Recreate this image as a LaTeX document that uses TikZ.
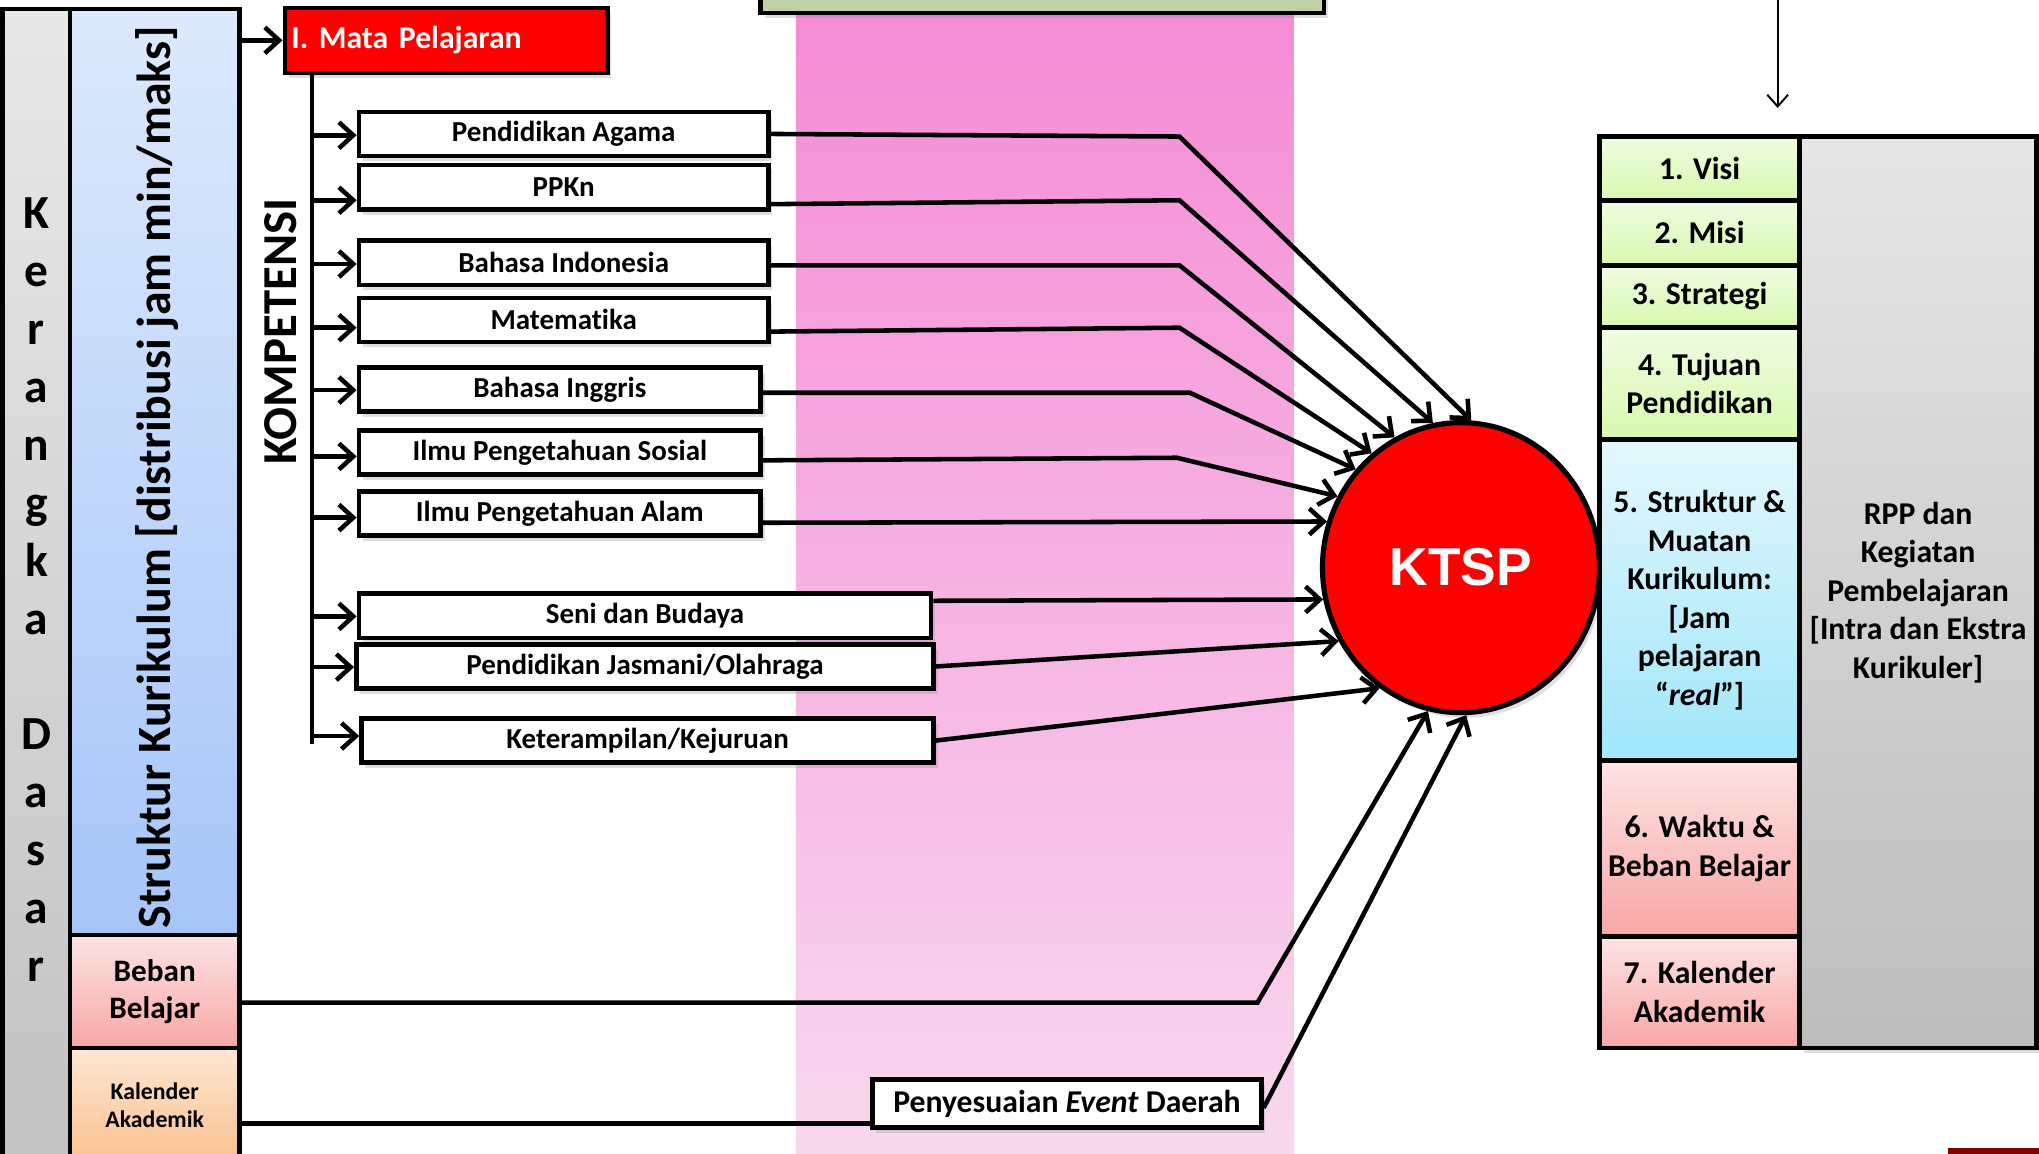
\documentclass[tikz,border=0pt]{standalone}
\usepackage{fontspec}
\setmainfont{Carlito}[Ligatures=NoCommon]
\newfontfamily\arialfont{Liberation Sans}
\usetikzlibrary{arrows.meta,shapes.geometric,shadows}
\definecolor{kdT}{HTML}{E8E8E8}\definecolor{kdB}{HTML}{C2C2C2}
\definecolor{skT}{HTML}{DDE9FC}\definecolor{skB}{HTML}{A6C6F8}
\definecolor{bbT}{HTML}{FDE3E3}\definecolor{bbB}{HTML}{F8A6A6}
\definecolor{klT}{HTML}{FEE7D2}\definecolor{klB}{HTML}{FAC08E}
\definecolor{gT}{HTML}{EFFCE2}\definecolor{gB}{HTML}{D8F8AE}
\definecolor{cT}{HTML}{E3F7FC}\definecolor{cB}{HTML}{A0E6FA}
\definecolor{rpT}{HTML}{E6E6E6}\definecolor{rpB}{HTML}{BDBDBD}
\definecolor{pkT}{HTML}{F58BD6}\definecolor{pkB}{HTML}{F8D8EE}
\definecolor{sage}{HTML}{C0D1A6}
\definecolor{darkred}{HTML}{7F0000}
\tikzset{
  bx/.style={draw=black, line width=3.5pt, inner sep=0pt, align=center,
    font=\bfseries\fontsize{24.4}{29.6}\selectfont},
  subj/.style={bx, fill=white, minimum height=34pt, font=\bfseries\fontsize{22.3}{26}\selectfont, shd},
  ln/.style={line width=3.5pt, line join=miter},
  arr/.style={ln, -{Straight Barb[length=11pt,width=20pt]}},
  shd/.style={drop shadow={opacity=0.25, shadow xshift=3pt, shadow yshift=-4pt}},
}
\begin{document}
\begin{tikzpicture}[x=1pt,y=-1pt]
\useasboundingbox (0,0) rectangle (1568,887);
\clip (0,0) rectangle (1568,887);
\fill[white] (0,0) rectangle (1568,887);
% pink band and top green box
\shade[top color=pkT, bottom color=pkB] (612,0) rectangle (995,887);
\node[bx, fill=sage, minimum width=433pt, minimum height=40pt, shd] (gbox) at (801.5,-10) {};
% left column
\node[bx, top color=kdT, bottom color=kdB, minimum width=52pt, minimum height=893pt,
  font=\bfseries\fontsize{36.5}{44.5}\selectfont] (kd) at (28,453.5)
  {K\\e\\r\\a\\n\\g\\k\\a\\~\\D\\a\\s\\a\\r};
\node[bx, top color=skT, bottom color=skB, minimum width=130pt, minimum height=712pt] (sk) at (119,363) {};
\node[rotate=90, font=\bfseries\fontsize{36.8}{40}\selectfont] (sktext) at (121,367) {Struktur Kurikulum [distribusi jam min/maks]};
\node[bx, top color=bbT, bottom color=bbB, minimum width=130pt, minimum height=87pt,
  font=\bfseries\fontsize{24}{29}\selectfont] (beban) at (119,762.5) {Beban\\Belajar};
\node[bx, top color=klT, bottom color=klB, minimum width=130pt, minimum height=88pt,
  font=\bfseries\fontsize{18.3}{21}\selectfont] (kal) at (119,850) {Kalender\\Akademik};
% mata pelajaran
\node[bx, fill=red, text=white, minimum width=248pt, minimum height=50pt, text width=238pt, align=left, shd] (mata) at (343,31) {I. Mata Pelajaran};
\draw[arr] (sk.north east |- mata.west) -- (mata.west);
\coordinate (tr0) at (240,56);
\coordinate (tr1) at (240,572);
\draw[ln] (tr0) -- (tr1);
\node[rotate=90, font=\bfseries\fontsize{37.5}{40}\selectfont] (komp) at (216,255) {KOMPETENSI};
% subjects
\node[subj, minimum width=315pt] (agama) at (433.5,103) {Pendidikan Agama};
\node[subj, minimum width=315pt] (ppkn) at (433.5,144) {PPKn};
\node[subj, minimum width=315pt] (bind) at (433.5,202) {Bahasa Indonesia};
\node[subj, minimum width=315pt] (mat) at (433.5,246) {Matematika};
\node[subj, minimum width=309pt] (bing) at (430.5,299.5) {Bahasa Inggris};
\node[subj, minimum width=309pt] (ips) at (430.5,348) {Ilmu Pengetahuan Sosial};
\node[subj, minimum width=309pt] (ipa) at (430.5,395) {Ilmu Pengetahuan Alam};
\node[subj, minimum width=440pt] (seni) at (496,473.5) {Seni dan Budaya};
\node[subj, minimum width=444pt] (jas) at (496,512.5) {Pendidikan Jasmani/Olahraga};
\node[subj, minimum width=440pt] (ket) at (498,569.5) {Keterampilan/Kejuruan};
% branch arrows
\draw[arr] (tr0 |- 0,104) -- (agama.west |- 0,104);
\draw[arr] (tr0 |- 0,154) -- (ppkn.west |- 0,154);
\draw[arr] (tr0 |- 0,203) -- (bind.west |- 0,203);
\draw[arr] (tr0 |- 0,252) -- (mat.west |- 0,252);
\draw[arr] (tr0 |- 0,300) -- (bing.west |- 0,300);
\draw[arr] (tr0 |- 0,351) -- (ips.west |- 0,351);
\draw[arr] (tr0 |- 0,398) -- (ipa.west |- 0,398);
\draw[arr] (tr0 |- 0,474) -- (seni.west |- 0,474);
\draw[arr] (tr0 |- 0,513) -- (jas.west |- 0,513);
\draw[arr] (tr0 |- 0,566) -- (ket.west |- 0,566);
% KTSP
\node[ellipse, draw=black, line width=4pt, fill=red, minimum width=213pt, minimum height=223pt,
  inner sep=0pt, text=white, font=\arialfont\bfseries\fontsize{41}{45}\selectfont, shd] (ktsp) at (1123.5,436.5) {KTSP};
% Penyesuaian box
\node[bx, fill=white, minimum width=299pt, minimum height=37pt, shd] (pbox) at (820.5,848.5) {Penyesuaian \textit{Event} Daerah};
% bend points
\coordinate (b1) at (907,105);
\coordinate (b2) at (907,154);
\coordinate (b3) at (907,204);
\coordinate (b4) at (907,252);
\coordinate (b5) at (915,302);
\coordinate (b6) at (905,352);
\coordinate (b11) at (967,771);
% connectors to KTSP
\draw[arr] (agama.east) -- (b1) -- (ktsp.86);
\draw[arr] (ppkn.east |- 0,157) -- (b2) -- (ktsp.101);
\draw[arr] (bind.east |- 0,204) -- (b3) -- (ktsp.117);
\draw[arr] (mat.east |- 0,255) -- (b4) -- (ktsp.128);
\draw[arr] (bing.east |- 0,302) -- (b5) -- (ktsp.137);
\draw[arr] (ips.east |- 0,354) -- (b6) -- (ktsp.150);
\draw[arr] (ipa.east |- 0,402) -- (ktsp.161.2);
\draw[arr] (seni.east |- 0,462) -- (ktsp.193.8);
\draw[arr] (jas.east) -- (ktsp.211);
\draw[arr] (ket.east) -- (ktsp.236);
\draw[arr] (beban.east |- 0,771) -- (b11) -- (ktsp.257);
\draw[ln] (kal.east |- 0,864) -- (pbox.west |- 0,864);
\draw[arr] (pbox.east |- 0,852) -- (ktsp.272);
% right block
\node[bx, top color=rpT, bottom color=rpB, minimum width=182pt, minimum height=701pt, shd] (rpp) at (1475,455.5)
  {RPP dan\\Kegiatan\\Pembelajaran\\{[}Intra dan Ekstra\\Kurikuler]};
\node[bx, top color=gT, bottom color=gB, minimum width=154pt, minimum height=49pt] (visi) at (1307,129.5) {1. Visi};
\node[bx, top color=gT, bottom color=gB, minimum width=154pt, minimum height=50pt] (misi) at (1307,179) {2. Misi};
\node[bx, top color=gT, bottom color=gB, minimum width=154pt, minimum height=48pt] (strat) at (1307,228) {3. Strategi};
\node[bx, top color=gT, bottom color=gB, minimum width=154pt, minimum height=86pt] (tuj) at (1307,295) {4. Tujuan\\Pendidikan};
\node[bx, top color=cT, bottom color=cB, minimum width=154pt, minimum height=247pt] (str5) at (1307,461.5)
  {5. Struktur \&\\Muatan\\Kurikulum:\\{[}Jam\\pelajaran\\“\textit{real}”]};
\node[bx, top color=bbT, bottom color=bbB, minimum width=154pt, minimum height=135pt] (waktu) at (1307,652.5) {6. Waktu \&\\Beban Belajar};
\node[bx, top color=bbT, bottom color=bbB, minimum width=154pt, minimum height=86pt] (kal7) at (1307,763) {7. Kalender\\Akademik};
% top arrow
\coordinate (tA) at (1367,-2);
\coordinate (tB) at (1367,83);
\draw[line width=1.5pt, -{Straight Barb[length=9pt,width=16pt]}] (tA) -- (tB);
% corner bar
\fill[darkred] (1498,883) rectangle (1570,890);
\end{tikzpicture}
\end{document}
